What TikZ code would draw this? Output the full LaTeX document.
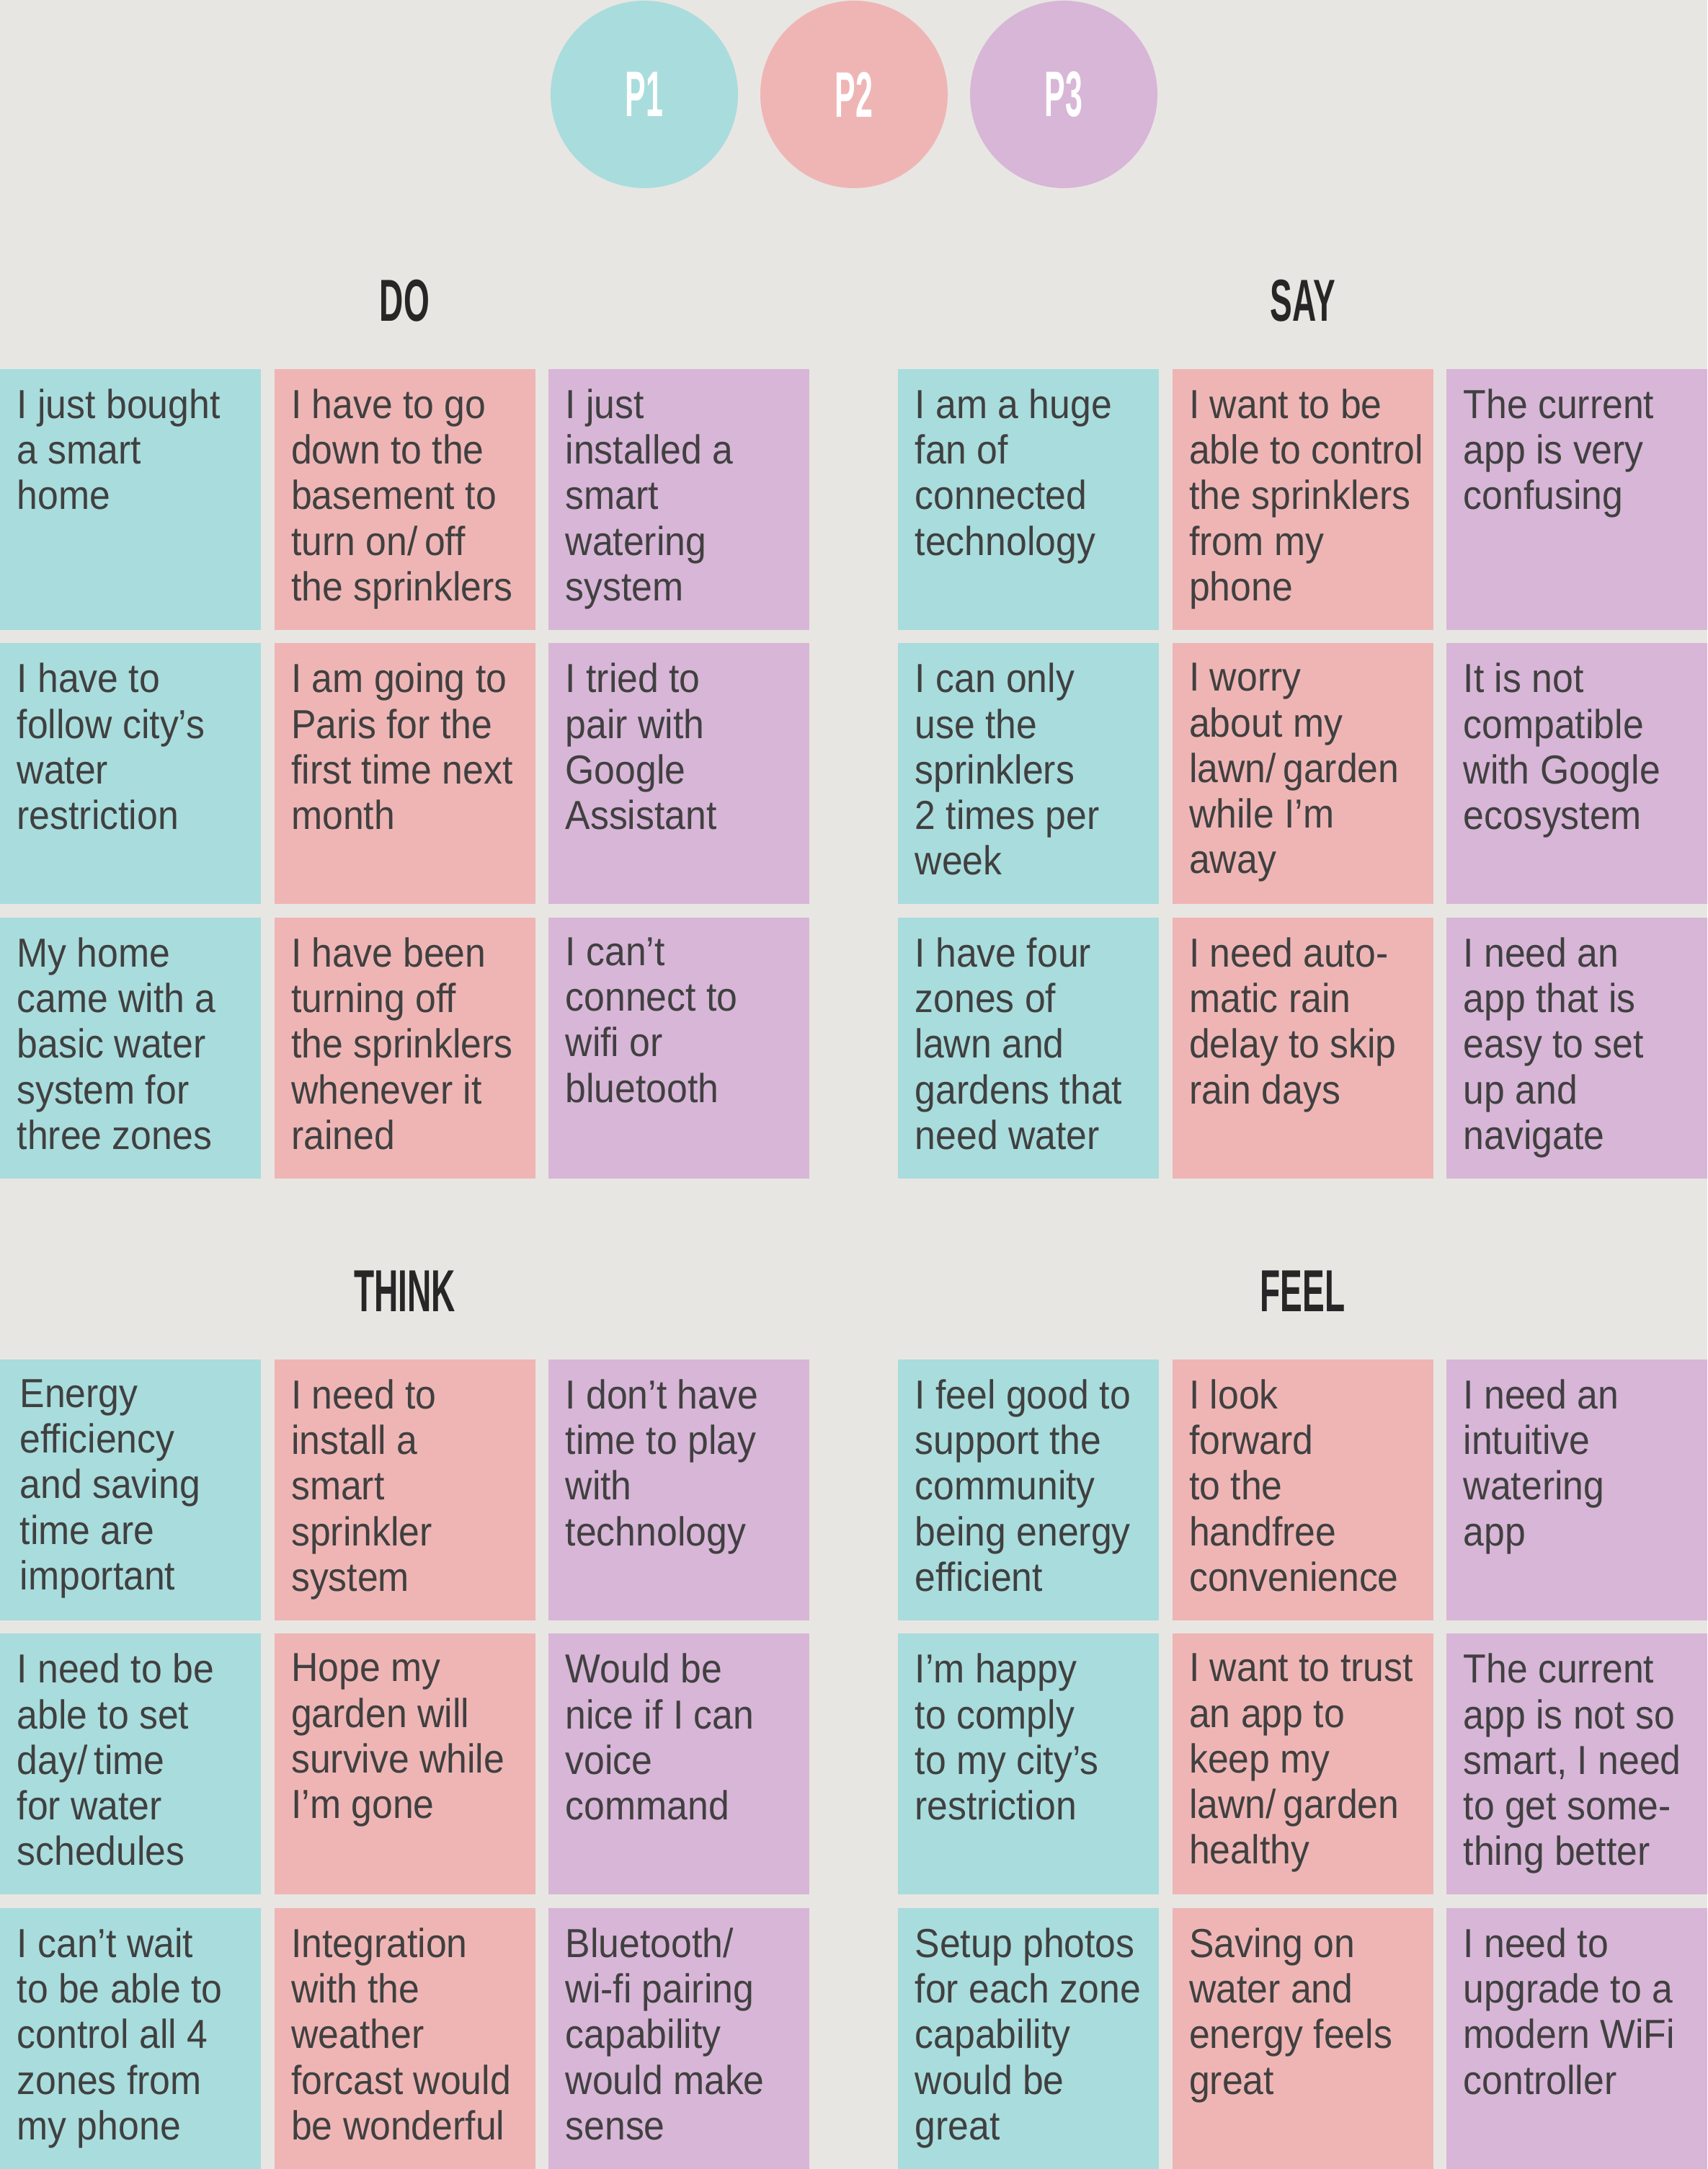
\documentclass[tikz,border=0pt]{standalone}
\usepackage{fontspec}
\usepackage{xcolor}
\usepackage{tikz}
\usetikzlibrary{positioning}
\newfontfamily\notefont{Liberation Sans}[FakeStretch=0.92]
\newfontfamily\headfont{Liberation Sans}[FakeStretch=0.56]
\newfontfamily\personafont{Liberation Sans}[FakeStretch=0.48]
\definecolor{canvas}{HTML}{E8E6E2}
\definecolor{pteal}{HTML}{A9DCDD}
\definecolor{ppink}{HTML}{EFB5B5}
\definecolor{plilac}{HTML}{D8B6D7}
\definecolor{notegray}{HTML}{404040}
\definecolor{headgray}{HTML}{262626}
\tikzset{
  card/.style   ={rectangle, inner sep=0pt, outer sep=0pt, minimum width=3.62cm,
                  minimum height=3.62cm, anchor=north west},
  pone/.style   ={card, fill=pteal},
  ptwo/.style   ={card, fill=ppink},
  pthree/.style ={card, fill=plilac},
  note/.style   ={inner sep=0pt, align=left, text=notegray,
                  font=\notefont\fontsize{16pt}{18pt}\selectfont},
  head/.style   ={inner sep=0pt, anchor=base, text=headgray,
                  font=\headfont\bfseries\fontsize{23.4pt}{26pt}\selectfont},
  persona/.style={circle, inner sep=0pt, outer sep=0pt, minimum size=2.6cm, text=white,
                  font=\personafont\bfseries\fontsize{25.4pt}{28pt}\selectfont},
}

\begin{document}
\begin{tikzpicture}[node distance=0.185cm]

  \fill[canvas] (0,0) rectangle (23.69,30.09);
  \useasboundingbox (0,0) rectangle (23.69,30.09);

  \node[persona, fill=ppink] (p2) at (11.85,28.78) {P2};
  \node[persona, fill=pteal, left=0.31cm of p2]   (p1) {P1};
  \node[persona, fill=plilac, right=0.31cm of p2] (p3) {P3};

  % DO
  \node[pone] (do11) at (0,24.97) {};
  \node[ptwo, right=of do11]   (do12) {};
  \node[pthree, right=of do12] (do13) {};
  \node[pone, below=of do11]   (do21) {};
  \node[ptwo, right=of do21]   (do22) {};
  \node[pthree, right=of do22] (do23) {};
  \node[pone, below=of do21]   (do31) {};
  \node[ptwo, right=of do31]   (do32) {};
  \node[pthree, right=of do32] (do33) {};
  \node[head] (dohead) at ([yshift=0.663cm]do12.north) {DO};

  \node[note, below right=0.27cm and 0.23cm of do11.north west] (do11t) {I just bought\\a smart\\home};
  \node[note, below right=0.27cm and 0.23cm of do12.north west] (do12t) {I have to go\\down to the\\basement to\\turn on/\,off\\the sprinklers};
  \node[note, below right=0.27cm and 0.23cm of do13.north west] (do13t) {I just\\installed a\\smart\\watering\\system};
  \node[note, below right=0.27cm and 0.23cm of do21.north west] (do21t) {I have to\\follow city’s\\water\\restriction};
  \node[note, below right=0.27cm and 0.23cm of do22.north west] (do22t) {I am going to\\Paris for the\\first time next\\month};
  \node[note, below right=0.27cm and 0.23cm of do23.north west] (do23t) {I tried to\\pair with\\Google\\Assistant};
  \node[note, below right=0.27cm and 0.23cm of do31.north west] (do31t) {My home\\came with a\\basic water\\system for\\three zones};
  \node[note, below right=0.27cm and 0.23cm of do32.north west] (do32t) {I have been\\turning off\\the sprinklers\\whenever it\\rained};
  \node[note, below right=0.27cm and 0.23cm of do33.north west] (do33t) {I can’t\\connect to\\wifi or\\bluetooth};

  % SAY
  \node[pone] (say11) at (12.46,24.97) {};
  \node[ptwo, right=of say11]   (say12) {};
  \node[pthree, right=of say12] (say13) {};
  \node[pone, below=of say11]   (say21) {};
  \node[ptwo, right=of say21]   (say22) {};
  \node[pthree, right=of say22] (say23) {};
  \node[pone, below=of say21]   (say31) {};
  \node[ptwo, right=of say31]   (say32) {};
  \node[pthree, right=of say32] (say33) {};
  \node[head] (sayhead) at ([yshift=0.663cm]say12.north) {SAY};

  \node[note, below right=0.27cm and 0.23cm of say11.north west] (say11t) {I am a huge\\fan of\\connected\\technology};
  \node[note, below right=0.27cm and 0.23cm of say12.north west] (say12t) {I want to be\\able to control\\the sprinklers\\from my\\phone};
  \node[note, below right=0.27cm and 0.23cm of say13.north west] (say13t) {The current\\app is very\\confusing};
  \node[note, below right=0.27cm and 0.23cm of say21.north west] (say21t) {I can only\\use the\\sprinklers\\2 times per\\week};
  \node[note, below right=0.27cm and 0.23cm of say22.north west] (say22t) {I worry\\about my\\lawn/\,garden\\while I’m\\away};
  \node[note, below right=0.27cm and 0.23cm of say23.north west] (say23t) {It is not\\compatible\\with Google\\ecosystem};
  \node[note, below right=0.27cm and 0.23cm of say31.north west] (say31t) {I have four\\zones of\\lawn and\\gardens that\\need water};
  \node[note, below right=0.27cm and 0.23cm of say32.north west] (say32t) {I need auto-\\matic rain\\delay to skip\\rain days};
  \node[note, below right=0.27cm and 0.23cm of say33.north west] (say33t) {I need an\\app that is\\easy to set\\up and\\navigate};

  % THINK
  \node[pone] (think11) at (0,11.23) {};
  \node[ptwo, right=of think11]   (think12) {};
  \node[pthree, right=of think12] (think13) {};
  \node[pone, below=of think11]   (think21) {};
  \node[ptwo, right=of think21]   (think22) {};
  \node[pthree, right=of think22] (think23) {};
  \node[pone, below=of think21]   (think31) {};
  \node[ptwo, right=of think31]   (think32) {};
  \node[pthree, right=of think32] (think33) {};
  \node[head] (thinkhead) at ([yshift=0.663cm]think12.north) {THINK};

  \node[note, below right=0.27cm and 0.27cm of think11.north west] (think11t) {Energy\\efficiency\\and saving\\time are\\important};
  \node[note, below right=0.27cm and 0.23cm of think12.north west] (think12t) {I need to\\install a\\smart\\sprinkler\\system};
  \node[note, below right=0.27cm and 0.23cm of think13.north west] (think13t) {I don’t have\\time to play\\with\\technology};
  \node[note, below right=0.27cm and 0.23cm of think21.north west] (think21t) {I need to be\\able to set\\day/\,time\\for water\\schedules};
  \node[note, below right=0.27cm and 0.23cm of think22.north west] (think22t) {Hope my\\garden will\\survive while\\I’m gone};
  \node[note, below right=0.27cm and 0.23cm of think23.north west] (think23t) {Would be\\nice if I can\\voice\\command};
  \node[note, below right=0.27cm and 0.23cm of think31.north west] (think31t) {I can’t wait\\to be able to\\control all 4\\zones from\\my phone};
  \node[note, below right=0.27cm and 0.23cm of think32.north west] (think32t) {Integration\\with the\\weather\\forcast would\\be wonderful};
  \node[note, below right=0.27cm and 0.23cm of think33.north west] (think33t) {Bluetooth/\\wi-fi pairing\\capability\\would make\\sense};

  % FEEL
  \node[pone] (feel11) at (12.46,11.23) {};
  \node[ptwo, right=of feel11]   (feel12) {};
  \node[pthree, right=of feel12] (feel13) {};
  \node[pone, below=of feel11]   (feel21) {};
  \node[ptwo, right=of feel21]   (feel22) {};
  \node[pthree, right=of feel22] (feel23) {};
  \node[pone, below=of feel21]   (feel31) {};
  \node[ptwo, right=of feel31]   (feel32) {};
  \node[pthree, right=of feel32] (feel33) {};
  \node[head] (feelhead) at ([yshift=0.663cm]feel12.north) {FEEL};

  \node[note, below right=0.27cm and 0.23cm of feel11.north west] (feel11t) {I feel good to\\support the\\community\\being energy\\efficient};
  \node[note, below right=0.27cm and 0.23cm of feel12.north west] (feel12t) {I look\\forward\\to the\\handfree\\convenience};
  \node[note, below right=0.27cm and 0.23cm of feel13.north west] (feel13t) {I need an\\intuitive\\watering\\app};
  \node[note, below right=0.27cm and 0.23cm of feel21.north west] (feel21t) {I’m happy\\to comply\\to my city’s\\restriction};
  \node[note, below right=0.27cm and 0.23cm of feel22.north west] (feel22t) {I want to trust\\an app to\\keep my\\lawn/\,garden\\healthy};
  \node[note, below right=0.27cm and 0.23cm of feel23.north west] (feel23t) {The current\\app is not so\\smart, I need\\to get some-\\thing better};
  \node[note, below right=0.27cm and 0.23cm of feel31.north west] (feel31t) {Setup photos\\for each zone\\capability\\would be\\great};
  \node[note, below right=0.27cm and 0.23cm of feel32.north west] (feel32t) {Saving on\\water and\\energy feels\\great};
  \node[note, below right=0.27cm and 0.23cm of feel33.north west] (feel33t) {I need to\\upgrade to a\\modern WiFi\\controller};

\end{tikzpicture}
\end{document}
